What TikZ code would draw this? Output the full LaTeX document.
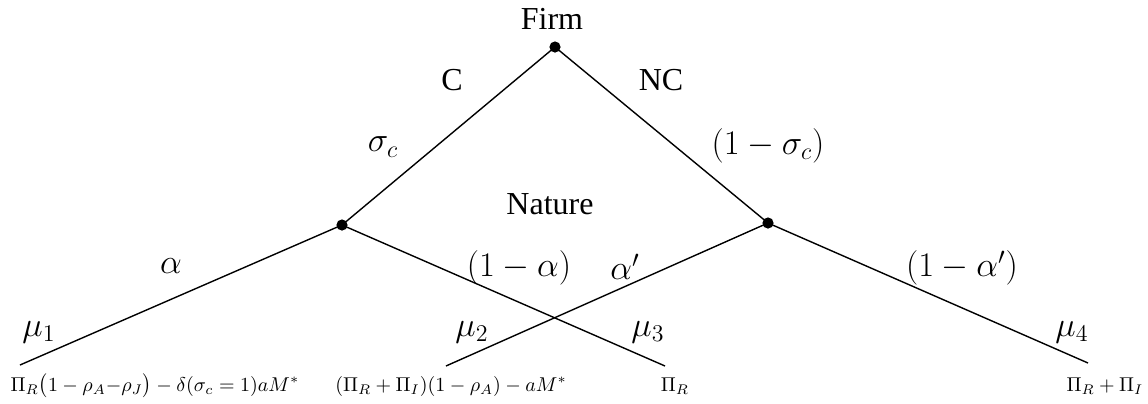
\documentclass[tikz,border=0pt]{standalone}
\usepackage{fontspec}
\setmainfont{Liberation Serif}
\begin{document}
\begin{tikzpicture}[x=0.5pt,y=-0.5pt,
  dot/.style={circle,fill=black,inner sep=0pt,minimum size=5.6pt},
  lbl/.style={inner sep=0pt,font=\fontsize{16}{19}\selectfont},
  mlbl/.style={inner sep=0pt,font=\fontsize{16.5}{19}\selectfont},
  pay/.style={inner sep=0pt,font=\fontsize{10}{12}\selectfont},
  edge/.style={line width=0.7pt}]
\useasboundingbox (0,0) rectangle (1148,403);
\node[dot] (F) at (555,47) {};
\node[dot] (L) at (342,225) {};
\node[dot] (R) at (768,223) {};
\coordinate (L1) at (20,365);
\coordinate (L2) at (665,366);
\coordinate (R1) at (446,366);
\coordinate (R2) at (1088,363);
\draw[edge] (F.center) -- (L.center);
\draw[edge] (F.center) -- (R.center);
\draw[edge] (L.center) -- (L1);
\draw[edge] (L.center) -- (L2);
\draw[edge] (R.center) -- (R1);
\draw[edge] (R.center) -- (R2);
\node[lbl] (firm) at (552,19) {Firm};
\node[lbl] (c) at (452,80) {C};
\node[lbl] (nc) at (661,80) {NC};
\node[lbl] (nat) at (550,204) {Nature};
\node[mlbl] (sc) at (383,147) {$\sigma_c$};
\node[mlbl] (osc) at (768,146) {$(1-\sigma_c)$};
\node[mlbl] (a) at (171,266) {$\alpha$};
\node[mlbl] (oa) at (519,268) {$(1-\alpha)$};
\node[mlbl] (ap) at (625,267) {$\alpha'$};
\node[mlbl] (oap) at (962,268) {$(1-\alpha')$};
\node[mlbl] (m1) at (39,332) {$\mu_1$};
\node[mlbl] (m2) at (472,332) {$\mu_2$};
\node[mlbl] (m3) at (648,332) {$\mu_3$};
\node[mlbl] (m4) at (1072,332) {$\mu_4$};
\node[pay] (p1) at (155,386) {$\Pi_R\bigl(1-\rho_A{-}\rho_J\bigr)-\delta(\sigma_c=1)aM^*$};
\node[pay] (p2) at (451,386) {$(\Pi_R+\Pi_I)(1-\rho_A)-aM^*$};
\node[pay] (p3) at (675,386) {$\Pi_R$};
\node[pay] (p4) at (1105,386) {$\Pi_R+\Pi_I$};
\end{tikzpicture}
\end{document}
